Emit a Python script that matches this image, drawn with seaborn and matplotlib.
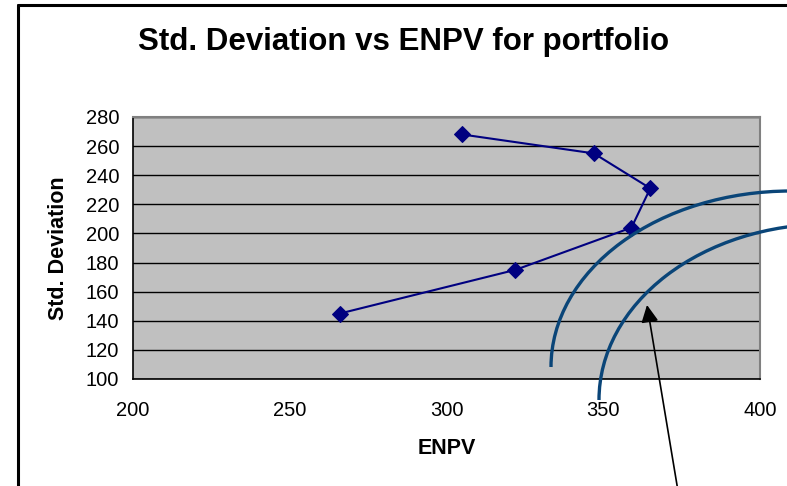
import matplotlib
matplotlib.use("Agg")
import matplotlib.pyplot as plt
import seaborn as sns
import pandas as pd
from matplotlib.patches import Arc
from matplotlib.lines import Line2D

# portfolio points, in the order they are joined
enpv = [266, 322, 359, 365, 347, 305]
std_dev = [145, 175, 204, 231, 255, 268]
x_ticks = [200, 250, 300, 350, 400]
y_ticks = [100, 120, 140, 160, 180, 200, 220, 240, 260, 280]

df = pd.DataFrame({"ENPV": enpv, "Std. Deviation": std_dev})

sns.set_style("white", rc={"text.color": "black", "axes.labelcolor": "black",
                           "xtick.color": "black", "ytick.color": "black"})
plt.rcParams["font.family"] = ["Liberation Sans", "DejaVu Sans"]

W, H = 787, 486
fig = plt.figure(figsize=(W / 100, H / 100), dpi=100)
ax = fig.add_axes([133 / W, 1 - 379 / H, 627 / W, 262 / H])
ax.set_facecolor("#c0c0c0")

sns.lineplot(data=df, x="ENPV", y="Std. Deviation", sort=False, ax=ax,
             color="#000080", lw=1.5, marker="D", markersize=8,
             markeredgecolor="#000080", markerfacecolor="#000080")

ax.set_xlim(200, 400)
ax.set_ylim(100, 280)
ax.set_xticks(x_ticks)
ax.set_yticks(y_ticks)
ax.yaxis.grid(True, color="black", lw=1.0)
ax.xaxis.grid(False)
ax.set_axisbelow(True)
ax.tick_params(axis="both", direction="out", length=5, width=1, color="black",
               labelcolor="black", labelsize=14.5, pad=3)
ax.tick_params(axis="x", pad=11)
ax.tick_params(axis="y", pad=5)
for s in ["left", "bottom"]:
    ax.spines[s].set_color("black")
    ax.spines[s].set_linewidth(1.2)
for s in ["top", "right"]:
    ax.spines[s].set_color("#808080")
    ax.spines[s].set_linewidth(1.5)

ax.set_xlabel("ENPV", fontsize=15.5, fontweight="bold", va="center", color="black")
ax.xaxis.set_label_coords(0.5, (379 - 448) / 262)
ax.set_ylabel("Std. Deviation", fontsize=15.5, fontweight="bold", va="center", color="black")
ax.yaxis.set_label_coords((58 - 133) / 627, 0.5)

fig.text(404 / W, 1 - 50 / H, "Std. Deviation vs ENPV for portfolio",
         ha="center", va="baseline", fontsize=22.5, fontweight="bold", color="black")

# outer frame (left and top edges visible)
fig.add_artist(Line2D([17.5 / W, 17.5 / W], [0, 1 - 5.5 / H], color="black", lw=2.2))
fig.add_artist(Line2D([17.5 / W, 1.0], [1 - 5.5 / H, 1 - 5.5 / H], color="black", lw=2.2))

# indifference-curve style arcs
arc_col = "#0a4578"
fig.add_artist(Arc((791 / W, 1 - 367 / H), 480 / W, 352 / H, theta1=90, theta2=180,
                   transform=fig.transFigure, color=arc_col, lw=2.4))
fig.add_artist(Arc((829 / W, 1 - 400 / H), 460 / W, 352 / H, theta1=90, theta2=180,
                   transform=fig.transFigure, color=arc_col, lw=2.4))

ax.annotate("", xy=(647, H - 305), xytext=(678, -5), xycoords="figure pixels",
            textcoords="figure pixels", annotation_clip=False,
            arrowprops=dict(arrowstyle="-|>", color="black", lw=1.2,
                            mutation_scale=26, shrinkA=0, shrinkB=0))

fig.savefig("out.png", dpi=100)
